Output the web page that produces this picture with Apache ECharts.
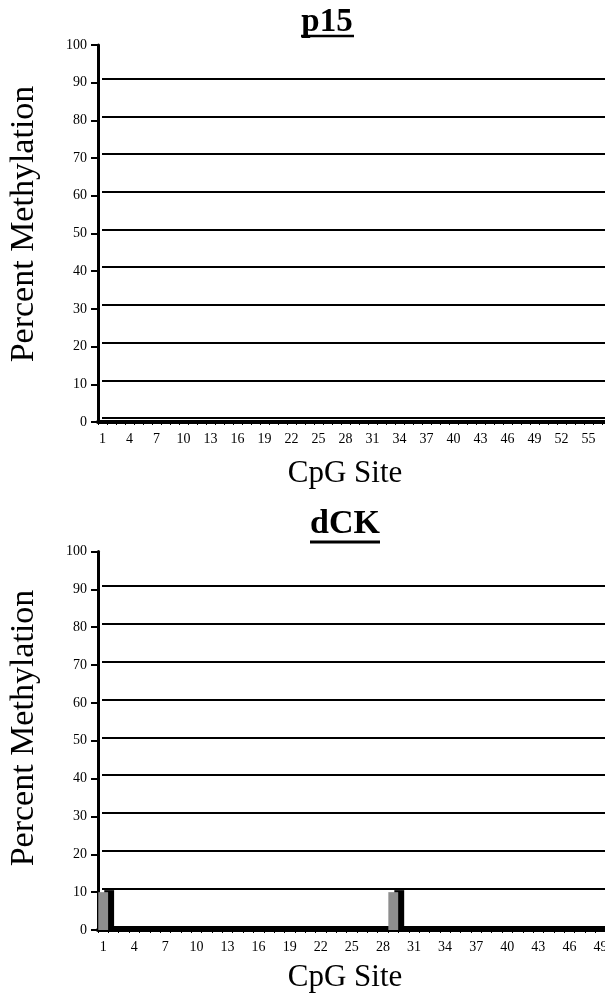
<!DOCTYPE html>
<html>
<head>
<meta charset="utf-8">
<script src="https://cdn.jsdelivr.net/npm/echarts@6/dist/echarts.min.js"></script>
<style>
html,body{margin:0;padding:0;background:#fff;overflow:hidden;}
#chart{width:630px;height:1003px;}
</style>
</head>
<body>
<div id="chart"></div>
<script>
// ---- data ----
const p15Sites = ['1','2','3','4','5','6','7','8','9','10','11','12','13','14','15','16','17','18','19','20',
  '21','22','23','24','25','26','27','28','29','30','31','32','33','34','35','36','37','38','39','40',
  '41','42','43','44','45','46','47','48','49','50','51','52','53','54','55','56','57'];
const p15Values = [0,0,0,0,0,0,0,0,0,0,0,0,0,0,0,0,0,0,0,0,
  0,0,0,0,0,0,0,0,0,0,0,0,0,0,0,0,0,0,0,0,
  0,0,0,0,0,0,0,0,0,0,0,0,0,0,0,0,0];
const dckSites = ['1','2','3','4','5','6','7','8','9','10','11','12','13','14','15','16','17','18','19','20',
  '21','22','23','24','25','26','27','28','29','30','31','32','33','34','35','36','37','38','39','40',
  '41','42','43','44','45','46','47','48','49','50'];
const dckValues = [10,0,0,0,0,0,0,0,0,0,0,0,0,0,0,0,0,0,0,0,
  0,0,0,0,0,0,0,0,10,0,0,0,0,0,0,0,0,0,0,0,
  0,0,0,0,0,0,0,0,0,0];
const titles = ['p15', 'dCK'];
const xName = 'CpG Site';
const yName = 'Percent Methylation';

const FONT = '"Liberation Serif", "Times New Roman", serif';
const chart = echarts.init(document.getElementById('chart'), null, {renderer: 'canvas'});

function frontX(gi, cats) {
  return {
    type: 'category', gridIndex: gi, data: cats, boundaryGap: true,
    axisLine: {show: true, lineStyle: {color: '#000', width: 4}},
    axisTick: {show: true, interval: 0, length: 3, lineStyle: {color: '#000', width: 1}},
    axisLabel: {interval: 2, margin: 10, fontFamily: FONT, fontSize: 14, color: '#000'},
    splitLine: {show: false}
  };
}
function frontY(gi) {
  return {
    type: 'value', gridIndex: gi, min: 0, max: 100, interval: 10,
    axisLine: {show: true, lineStyle: {color: '#000', width: 3}},
    axisTick: {show: true, length: 7, lineStyle: {color: '#000', width: 2}},
    axisLabel: {margin: 11, fontFamily: FONT, fontSize: 14, color: '#000'},
    splitLine: {show: false}
  };
}
function backX(gi, cats) {
  return {type: 'category', gridIndex: gi, data: cats, show: false};
}
function backY(gi) {
  return {
    type: 'value', gridIndex: gi, min: 0, max: 100, interval: 10,
    axisLine: {show: false}, axisTick: {show: false}, axisLabel: {show: false},
    splitLine: {show: true, showMaxLine: false, lineStyle: {color: '#000', width: 2}}
  };
}

const barStyle = {
  color: '#8e8e8e',
  shadowColor: '#000', shadowBlur: 0, shadowOffsetX: 6, shadowOffsetY: -2
};

const option = {
  backgroundColor: '#fff',
  animation: false,
  grid: [
    {left: 98, top: 45, width: 513, height: 377},
    {left: 102, top: 41, width: 513, height: 377},
    {left: 98, top: 551.5, width: 518, height: 378.5},
    {left: 102, top: 548, width: 518, height: 378.5}
  ],
  xAxis: [frontX(0, p15Sites), backX(1, p15Sites), frontX(2, dckSites), backX(3, dckSites)],
  yAxis: [frontY(0), backY(1), frontY(2), backY(3)],
  series: [
    {type: 'bar', xAxisIndex: 0, yAxisIndex: 0, data: p15Values, barWidth: '95%', itemStyle: barStyle, z: 5},
    {type: 'bar', xAxisIndex: 2, yAxisIndex: 2, data: dckValues, barWidth: '95%', itemStyle: barStyle, z: 5}
  ],
  graphic: [
    {type: 'text', x: 327, y: 22, style: {text: titles[0], fontFamily: FONT, fontSize: 33, fontWeight: 'bold', fill: '#000', align: 'center', verticalAlign: 'middle'}},
    {type: 'text', x: 345, y: 524, style: {text: titles[1], fontFamily: FONT, fontSize: 34, fontWeight: 'bold', fill: '#000', align: 'center', verticalAlign: 'middle'}},
    {type: 'text', x: 345, y: 474, style: {text: xName, fontFamily: FONT, fontSize: 31, fill: '#000', align: 'center', verticalAlign: 'middle'}},
    {type: 'text', x: 345, y: 978, style: {text: xName, fontFamily: FONT, fontSize: 31, fill: '#000', align: 'center', verticalAlign: 'middle'}},
    {type: 'text', x: 24, y: 224, rotation: Math.PI / 2, style: {text: yName, fontFamily: FONT, fontSize: 34, fill: '#000', align: 'center', verticalAlign: 'middle'}},
    {type: 'text', x: 24, y: 728, rotation: Math.PI / 2, style: {text: yName, fontFamily: FONT, fontSize: 34, fill: '#000', align: 'center', verticalAlign: 'middle'}},
    {type: 'line', shape: {x1: 301, y1: 36, x2: 354, y2: 36}, style: {stroke: '#000', lineWidth: 2.5}},
    {type: 'line', shape: {x1: 310, y1: 542, x2: 380, y2: 542}, style: {stroke: '#000', lineWidth: 3}}
  ]
};
chart.setOption(option);
</script>
</body>
</html>
